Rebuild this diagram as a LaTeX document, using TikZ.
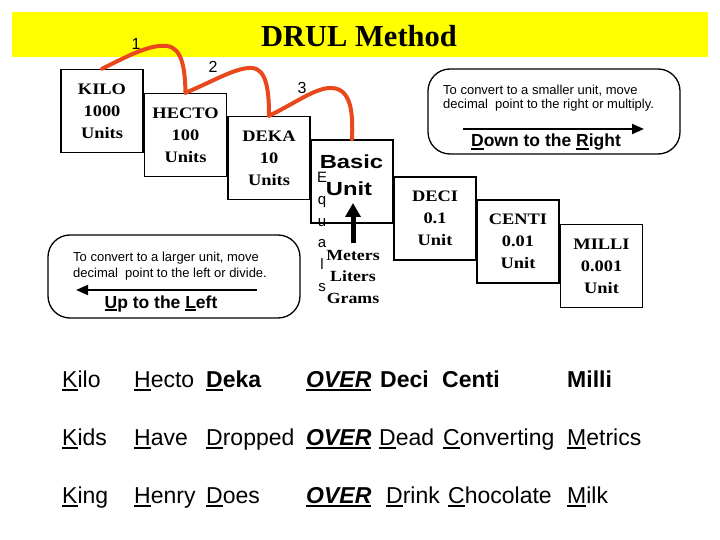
\documentclass[tikz,border=0pt]{standalone}
\usepackage{fontspec}
\usepackage{graphicx}
\setmainfont{Liberation Serif}
\setsansfont{Liberation Sans}
\usetikzlibrary{arrows.meta}
\definecolor{titleyellow}{RGB}{255,255,0}
\definecolor{curvered}{RGB}{232,72,28}
\newcommand{\myul}[1]{\setbox0\hbox{#1}\rlap{\rule[-4.2pt]{\wd0}{2.6pt}}\box0}
\newcommand{\myuls}[1]{\setbox0\hbox{#1}\rlap{\rule[-3.4pt]{\wd0}{2pt}}\box0}
\newcommand{\wide}[1]{\scalebox{1.15}[1]{#1}}
\tikzset{
  unitbox/.style={draw, line width=1.5pt, minimum width=82pt, minimum height=83pt, inner sep=0pt, align=center,
    font=\fontsize{16}{22}\selectfont\bfseries},
  redcurve/.style={draw=curvered, line width=4pt, line cap=round},
  roundbox/.style={draw, line width=1.3pt, rounded corners=22pt},
  smalltxt/.style={font=\sffamily\fontsize{13}{15}\selectfont, anchor=base west, inner sep=0pt},
  hint/.style={font=\sffamily\bfseries\fontsize{17.5}{20}\selectfont, anchor=base, inner sep=0pt},
  num/.style={font=\sffamily\fontsize{16}{18}\selectfont, inner sep=0pt},
  word/.style={font=\sffamily\fontsize{23}{26}\selectfont, anchor=base west, inner sep=0pt},
  boxarrow/.style={line width=2pt, -{Triangle[width=10pt,length=12pt]}}
}
\begin{document}
\begin{tikzpicture}[x=1pt,y=-1pt]
\useasboundingbox (0,0) rectangle (720,540);
% title bar
\fill[titleyellow] (12,12) rectangle (708,57);
\node[font=\bfseries\fontsize{30.5}{34}\selectfont, anchor=base, inner sep=0pt] (title) at (359,47) {DRUL Method};

% unit boxes
\node[unitbox] (kilo) at (102,111) {\wide{KILO}\\\wide{1000}\\\wide{Units}};
\node[unitbox] (hecto) at (185.5,135) {\wide{HECTO}\\\wide{100}\\\wide{Units}};
\node[unitbox] (deka) at (269,158) {\wide{DEKA}\\\wide{10}\\\wide{Units}};
\node[unitbox] (basic) at (352,181.5) {};
\node[unitbox] (deci) at (435,218.5) {\wide{DECI}\\\wide{0.1}\\\wide{Unit}};
\node[unitbox] (centi) at (518,241.5) {\wide{CENTI}\\\wide{0.01}\\\wide{Unit}};
\node[unitbox] (milli) at (601.5,266) {\wide{MILLI}\\\wide{0.001}\\\wide{Unit}};

% basic unit text
\node[font=\sffamily\bfseries\fontsize{19}{20}\selectfont, anchor=base, inner sep=0pt] (basictxt) at (351.5,169) {\scalebox{1.25}[1]{Basic}};
\node[font=\sffamily\bfseries\fontsize{19}{20}\selectfont, anchor=base, inner sep=0pt] (unittxt) at (349,196) {\scalebox{1.25}[1]{Unit}};
\node[font=\sffamily\fontsize{15}{21.8}\selectfont, align=center, inner sep=0pt] (equals) at (322,232) {E\\q\\u\\a\\l\\s};
\node[font=\bfseries\fontsize{15.5}{21.5}\selectfont, align=center, inner sep=0pt] (mlg) at (353,277) {\wide{Meters}\\\wide{Liters}\\\wide{Grams}};
\coordinate (upbase) at (353,243);
\coordinate (uptip) at (353,203);
\draw[line width=5pt, -{Triangle[width=15pt,length=14pt]}] (upbase) -- (uptip);

% red jump curves
\draw[redcurve] (kilo.north) .. controls (128,56) and (150,44) .. (167,46) .. controls (182,48) and (185,68) .. (hecto.north);
\draw[redcurve] (hecto.north) .. controls (212,82) and (236,67) .. (252,68) .. controls (267,69) and (269,92) .. (deka.north);
\draw[redcurve] (deka.north) .. controls (294,104) and (316,87) .. (332,88) .. controls (352,89) and (353,115) .. (basic.north);
\node[num] (n1) at (136,44) {1};
\node[num] (n2) at (213,67) {2};
\node[num] (n3) at (302,88) {3};

% right hint box
\draw[roundbox] (428,69) rectangle (680,154);
\node[smalltxt] (r1) at (443,95) {To convert to a smaller unit, move};
\node[smalltxt] (r2) at (443,109) {decimal\ \ point to the right or multiply.};
\coordinate (ra1) at (463,129);
\coordinate (ra2) at (644,129);
\draw[boxarrow] (ra1) -- (ra2);
\node[hint] (down) at (546,147) {\myuls{D}own to the \myuls{R}ight};

% left hint box
\draw[roundbox] (48,235) rectangle (300,318);
\node[smalltxt] (l1) at (73,261) {To convert to a larger unit, move};
\node[smalltxt] (l2) at (73,277) {decimal\ \ point to the left or divide.};
\coordinate (la1) at (257,290);
\coordinate (la2) at (76,290);
\draw[boxarrow] (la1) -- (la2);
\node[hint] (up) at (161,308) {\myuls{U}p to the \myuls{L}eft};

% mnemonic rows
\node[word] (a1) at (62,387) {\myul{K}ilo};
\node[word] (a2) at (134,387) {\myul{H}ecto};
\node[word] (a3) at (206,387) {\bfseries\myul{D}eka};
\node[word] (a4) at (306,387) {\bfseries\itshape\myul{OVER}};
\node[word] (a5) at (380,387) {\bfseries Deci};
\node[word] (a6) at (442,387) {\bfseries Centi};
\node[word] (a7) at (567,387) {\bfseries Milli};

\node[word] (b1) at (62,445) {\myul{K}ids};
\node[word] (b2) at (134,445) {\myul{H}ave};
\node[word] (b3) at (206,445) {\myul{D}ropped};
\node[word] (b4) at (306,445) {\bfseries\itshape\myul{OVER}};
\node[word] (b5) at (379,445) {\myul{D}ead};
\node[word] (b6) at (443,445) {\myul{C}onverting};
\node[word] (b7) at (567,445) {\myul{M}etrics};

\node[word] (c1) at (62,503) {\myul{K}ing};
\node[word] (c2) at (134,503) {\myul{H}enry};
\node[word] (c3) at (206,503) {\myul{D}oes};
\node[word] (c4) at (306,503) {\bfseries\itshape\myul{OVER}};
\node[word] (c5) at (386,503) {\myul{D}rink};
\node[word] (c6) at (448,503) {\myul{C}hocolate};
\node[word] (c7) at (567,503) {\myul{M}ilk};
\end{tikzpicture}
\end{document}
